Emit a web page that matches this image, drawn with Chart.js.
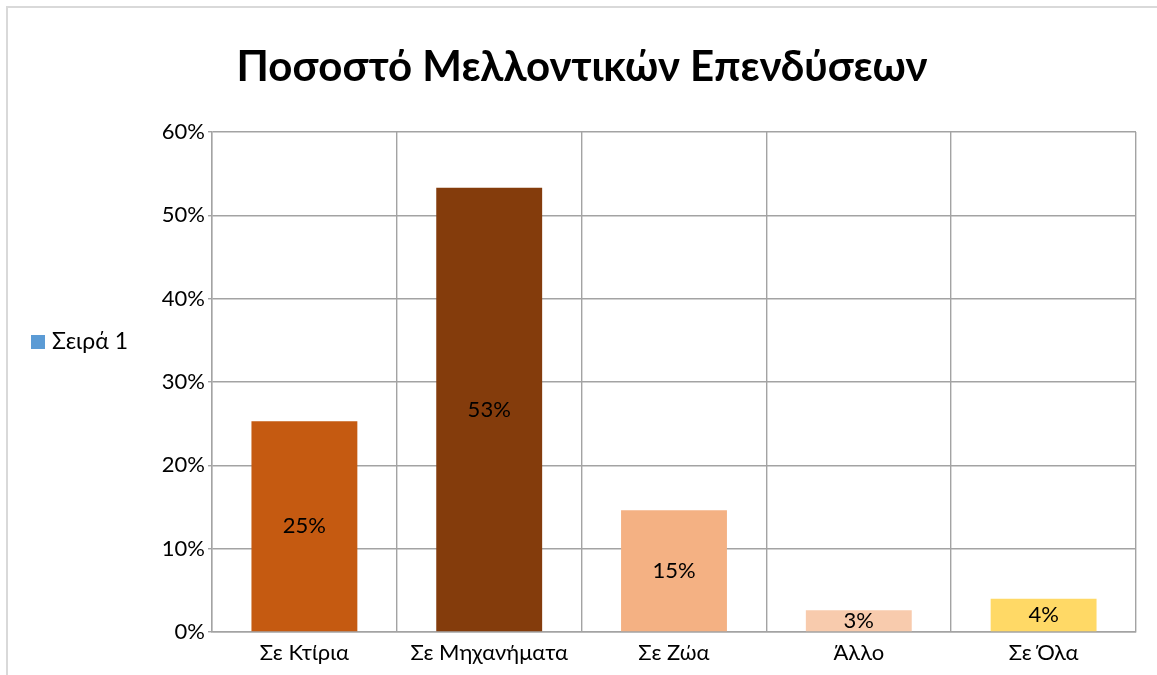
<!DOCTYPE html>
<html>
<head>
<meta charset="utf-8">
<script src="https://cdn.jsdelivr.net/npm/chart.js@4/dist/chart.umd.min.js"></script>
<style>
  html, body { margin: 0; padding: 0; background: #fff; }
  #wrap { position: relative; width: 1157px; height: 675px; }
</style>
</head>
<body>
<div id="wrap"><canvas id="investChart" width="1157" height="675"></canvas></div>
<script>
// Data
const categories = ['Σε Κτίρια', 'Σε Μηχανήματα', 'Σε Ζώα', 'Άλλο', 'Σε Όλα'];
const shares = [0.253, 0.533, 0.146, 0.026, 0.04];
const barColors = ['#C55A11', '#843C0C', '#F4B183', '#F8CBAD', '#FFD966'];
const yTicks = [0, 0.1, 0.2, 0.3, 0.4, 0.5, 0.6];
const seriesName = 'Σειρά 1';
const chartTitle = 'Ποσοστό Μελλοντικών Επενδύσεων';

const pct = v => Math.round(v * 100) + '%';

// Outer frame + title (title sits centred on the whole picture, not the plot)
const framePlugin = {
    id: 'frame',
    beforeDraw(chart) {
        const ctx = chart.ctx;
        ctx.save();
        ctx.fillStyle = '#fff';
        ctx.fillRect(0, 0, chart.width, chart.height);
        ctx.strokeStyle = '#d9d9d9';
        ctx.lineWidth = 2;
        ctx.strokeRect(7, 7, chart.width + 10, chart.height + 10);
        ctx.font = 'bold 42px Lato';
        ctx.fillStyle = '#000';
        ctx.textAlign = 'center';
        ctx.textBaseline = 'alphabetic';
        ctx.fillText(chartTitle, 582, 81);
        ctx.restore();
    }
};

// Labels in the middle of each bar
const barLabels = {
    id: 'barLabels',
    afterDatasetsDraw(chart) {
        const ctx = chart.ctx;
        const meta = chart.getDatasetMeta(0);
        ctx.save();
        ctx.font = '22px Lato';
        ctx.fillStyle = '#000';
        ctx.textAlign = 'center';
        ctx.textBaseline = 'middle';
        meta.data.forEach((bar, i) => {
            ctx.fillText(pct(shares[i]), bar.x, (bar.y + bar.base) / 2);
        });
        ctx.restore();
    }
};

// Legend on the left like the original
const sideLegend = {
    id: 'sideLegend',
    afterDraw(chart) {
        const ctx = chart.ctx;
        ctx.save();
        ctx.fillStyle = '#5B9BD5';
        ctx.fillRect(31, 335, 14, 14);
        ctx.font = '23px Lato';
        ctx.fillStyle = '#000';
        ctx.textBaseline = 'middle';
        ctx.fillText(seriesName, 52, 342);
        ctx.restore();
    }
};

const ctx = document.getElementById('investChart').getContext('2d');
const chart = new Chart(ctx, {
    type: 'bar',
    data: {
        labels: categories,
        datasets: [{
            label: seriesName,
            data: shares,
            backgroundColor: barColors,
            borderWidth: 0,
            barPercentage: 0.573,
            categoryPercentage: 1
        }]
    },
    options: {
        responsive: false,
        animation: false,
        layout: { padding: { left: 142, right: 21, top: 132, bottom: 9 } },
        plugins: {
            legend: { display: false },
            tooltip: { enabled: false },
            title: { display: false }
        },
        scales: {
            x: {
                afterFit(scale) { scale.height = 34; },
                grid: { color: '#a3a3a3', lineWidth: 1.4, drawTicks: false, offset: true },
                border: { color: '#a3a3a3', width: 1.4 },
                ticks: { color: '#000', font: { family: 'Lato', size: 22 }, padding: 8 }
            },
            y: {
                min: 0,
                max: 0.6,
                afterFit(scale) { scale.width = 70; },
                afterBuildTicks(scale) { scale.ticks = yTicks.map(v => ({ value: v })); },
                grid: { color: '#a3a3a3', lineWidth: 1.4, tickLength: 4 },
                border: { color: '#a3a3a3', width: 1.4 },
                ticks: {
                    color: '#000',
                    font: { family: 'Lato', size: 22 },
                    padding: 3,
                    callback: v => pct(v)
                }
            }
        }
    },
    plugins: [framePlugin, barLabels, sideLegend]
});
</script>
</body>
</html>
